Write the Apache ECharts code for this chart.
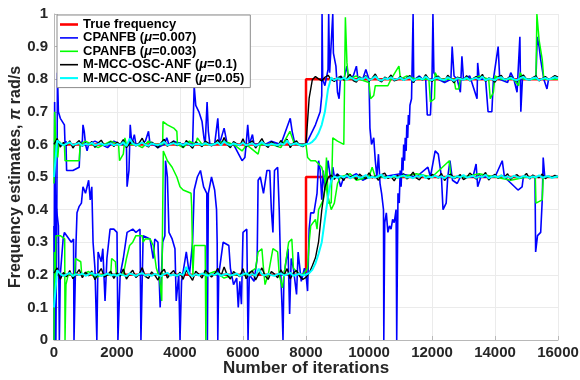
<!DOCTYPE html>
<html><head><meta charset="utf-8">
<script src="https://cdn.jsdelivr.net/npm/echarts@6/dist/echarts.min.js"></script>
<style>html,body{margin:0;padding:0;background:#fff}#c{width:580px;height:380px}</style>
</head><body><div id="c"></div>
<script>
const legendNames = ['True frequency','CPANFB (μ=0.007)','CPANFB (μ=0.003)','M-MCC-OSC-ANF (μ=0.1)','M-MCC-OSC-ANF (μ=0.05)'];
const xTicks = [0,2000,4000,6000,8000,10000,12000,14000,16000];
const sampleStep = 100; // M-MCC arrays are sampled every 100 iterations, 0..16000

const trueUpper = [[0,0.6],[8000,0.6],[8000,0.8],[16000,0.8]];
const trueLower = [[0,0.2],[8000,0.2],[8000,0.5],[16000,0.5]];

const blueUpper = [[0,0.0],[20,0.73],[40,0.45],[60,0.0],[90,0.40],[110,0.82],[140,0.70],[200,0.68],[330,0.66],[350,0.60],[380,0.61],[400,0.52],[600,0.52],[800,0.53],[830,0.60],[900,0.61],[920,0.66],[960,0.64],[1000,0.60],[1050,0.58],[1100,0.60],[1300,0.61],[1500,0.60],[1700,0.59],[1900,0.61],[2100,0.60],[2300,0.60],[2320,0.47],[2380,0.52],[2420,0.66],[2470,0.60],[2550,0.63],[2600,0.60],[2700,0.60],[2900,0.61],[3000,0.64],[3050,0.60],[3150,0.60],[3300,0.59],[3500,0.60],[3580,0.62],[3650,0.60],[3800,0.61],[4100,0.60],[4400,0.60],[4450,0.78],[4500,0.72],[4600,0.70],[4700,0.67],[4760,0.62],[4800,0.60],[4860,0.73],[4900,0.64],[4950,0.60],[5100,0.60],[5200,0.68],[5250,0.60],[5400,0.65],[5500,0.60],[5700,0.60],[5970,0.55],[6060,0.56],[6100,0.60],[6150,0.66],[6200,0.60],[6300,0.63],[6350,0.60],[6700,0.60],[6900,0.61],[7200,0.60],[7500,0.68],[7560,0.64],[7650,0.60],[7900,0.60],[8000,0.60],
[8100,0.62],[8300,0.66],[8450,0.70],[8500,0.75],[8510,1.0],[8530,0.80],[8600,0.78],[8700,0.83],[8720,1.0],[8750,0.82],[8850,1.0],[8870,0.88],[8950,0.84],[9000,0.76],[9050,0.74],[9100,0.81],[9200,0.80],[9300,0.84],[9350,0.80],[9500,0.81],[9600,0.84],[9650,0.80],[9800,0.80],[9900,0.83],[10000,0.80],[10030,0.65],[10080,0.60],[10150,0.62],[10200,0.55],[10250,0.50],[10300,0.57],[10350,0.48],[10400,0.45],[10460,0.40],[10470,0.0],[10500,0.36],[10550,0.39],[10600,0.33],[10650,0.35],[10700,0.34],[10750,0.37],[10800,0.36],[10860,0.40],[10880,0.0],[10920,0.45],[10960,0.42],[10990,0.52],[11020,0.47],[11050,0.56],[11080,0.52],[11100,0.60],[11130,0.55],[11150,0.62],[11180,0.58],[11200,0.66],[11230,0.62],[11250,0.69],[11280,0.66],[11300,0.72],[11350,0.74],[11400,1.0],[11420,0.79],[11460,0.80],[11600,0.81],[11700,0.80],[11800,0.80],[11850,0.69],[11950,0.69],[12000,0.80],[12030,1.0],[12060,0.82],[12200,0.80],[12400,0.79],[12600,0.80],[12640,0.90],[12700,0.81],[12800,0.80],[12900,0.76],[12950,0.87],[13000,0.80],[13200,0.81],[13430,0.74],[13450,0.85],[13500,0.80],[13700,0.80],[13780,0.70],[13900,0.70],[13950,0.80],[14100,0.90],[14150,0.80],[14400,0.79],[14500,0.82],[14600,0.80],[14700,0.76],[14790,0.93],[14820,0.70],[14870,0.80],[15100,0.80],[15300,0.80],[15340,0.93],[15400,0.90],[15450,0.86],[15550,0.80],[15650,0.77],[15700,0.80],[16000,0.80]];

const blueLower = [[0,0.35],[30,0.0],[40,0.43],[80,0.40],[140,0.35],[170,0.0],[200,0.20],[290,0.31],[330,0.33],[550,0.30],[620,0.31],[635,0.0],[700,0.30],[730,0.39],[800,0.41],[870,0.42],[920,0.47],[1000,0.45],[1100,0.49],[1150,0.43],[1200,0.47],[1240,0.30],[1300,0.22],[1360,0.0],[1400,0.27],[1500,0.24],[1550,0.28],[1620,0.12],[1680,0.25],[1780,0.34],[1900,0.34],[2000,0.33],[2030,0.0],[2100,0.20],[2200,0.25],[2320,0.33],[2500,0.34],[2600,0.33],[2730,0.34],[2760,0.0],[2830,0.32],[3050,0.31],[3150,0.25],[3200,0.31],[3300,0.30],[3370,0.10],[3450,0.30],[3520,0.32],[3540,0.55],[3600,0.50],[3650,0.33],[3750,0.31],[3840,0.28],[3880,0.12],[3960,0.20],[4000,0.0],[4050,0.18],[4150,0.24],[4200,0.27],[4300,0.20],[4400,0.30],[4450,0.46],[4550,0.50],[4650,0.52],[4750,0.47],[4850,0.45],[4870,0.0],[4900,0.45],[5000,0.50],[5100,0.46],[5160,0.40],[5180,0.30],[5200,0.0],[5230,0.20],[5370,0.30],[5550,0.29],[5600,0.22],[5700,0.17],[5800,0.19],[5850,0.10],[5900,0.18],[5950,0.11],[6000,0.33],[6120,0.34],[6160,0.0],[6200,0.20],[6350,0.18],[6450,0.25],[6480,0.49],[6550,0.50],[6650,0.45],[6760,0.52],[6850,0.52],[6900,0.40],[6950,0.33],[7000,0.52],[7100,0.53],[7150,0.40],[7200,0.20],[7240,0.10],[7270,0.0],[7300,0.20],[7430,0.28],[7480,0.08],[7530,0.25],[7600,0.22],[7700,0.14],[7750,0.27],[7850,0.18],[7950,0.22],[8000,0.20],
[8050,0.15],[8100,0.34],[8150,0.39],[8250,0.39],[8300,0.42],[8350,0.45],[8400,0.55],[8450,0.52],[8500,0.43],[8550,0.52],[8600,0.46],[8700,0.55],[8800,0.48],[8850,0.53],[8900,0.50],[9000,0.51],[9100,0.47],[9200,0.50],[9400,0.50],[9600,0.51],[9800,0.49],[10000,0.50],[10400,0.50],[11000,0.51],[11500,0.50],[11870,0.53],[11950,0.50],[12100,0.58],[12200,0.57],[12300,0.50],[12350,0.40],[12450,0.42],[12500,0.50],[12570,0.55],[12650,0.49],[12800,0.48],[12900,0.50],[13300,0.50],[13400,0.54],[13450,0.47],[13550,0.50],[14000,0.50],[14230,0.55],[14300,0.50],[14730,0.46],[14860,0.47],[14900,0.50],[15270,0.50],[15290,0.27],[15350,0.32],[15450,0.33],[15500,0.43],[15530,0.56],[15580,0.50],[16000,0.50]];

const greenUpper = [[0,0.48],[20,0.70],[60,0.60],[120,0.56],[160,0.61],[250,0.60],[330,0.60],[350,0.55],[500,0.55],[800,0.55],[830,0.60],[1000,0.61],[1200,0.60],[1400,0.59],[1600,0.60],[1800,0.61],[2050,0.60],[2080,0.55],[2200,0.57],[2250,0.62],[2300,0.60],[2600,0.60],[2800,0.59],[3000,0.61],[3200,0.60],[3450,0.60],[3460,0.67],[3600,0.66],[3800,0.65],[3900,0.64],[3920,0.60],[4100,0.59],[4300,0.61],[4500,0.60],[4550,0.62],[4700,0.60],[5000,0.60],[5400,0.61],[5700,0.60],[5970,0.58],[6050,0.59],[6100,0.60],[6480,0.57],[6550,0.60],[6900,0.60],[7200,0.59],[7490,0.64],[7600,0.61],[7700,0.60],[8000,0.60],[8050,0.56],[8150,0.55],[8300,0.55],[8500,0.53],[8650,0.47],[8700,0.42],[8800,0.42],[8850,0.62],[9000,0.61],[9200,0.60],[9250,0.99],[9300,0.85],[9350,0.80],[9600,0.81],[9700,0.80],[10000,0.79],[10050,0.74],[10150,0.75],[10200,0.78],[10600,0.78],[10700,0.80],[10950,0.84],[11000,0.80],[11200,0.81],[11500,0.80],[11900,0.80],[11950,0.73],[12080,0.74],[12100,0.82],[12200,0.80],[12700,0.80],[12750,0.77],[12850,0.77],[12900,0.80],[13300,0.80],[13500,0.81],[13800,0.80],[13850,0.74],[13950,0.76],[14000,0.81],[14200,0.80],[14600,0.80],[14750,0.78],[14800,0.82],[14900,0.80],[15300,0.80],[15330,1.0],[15400,0.92],[15500,0.86],[15550,0.80],[15700,0.80],[16000,0.80]];

const greenLower = [[0,0.0],[15,0.27],[40,0.18],[60,0.32],[200,0.32],[340,0.31],[350,0.0],[380,0.17],[450,0.20],[650,0.20],[680,0.25],[850,0.24],[880,0.20],[1100,0.21],[1300,0.19],[1500,0.20],[1800,0.20],[1830,0.25],[1950,0.24],[1980,0.20],[2200,0.20],[2300,0.25],[2400,0.29],[2500,0.30],[2600,0.32],[2800,0.32],[2830,0.30],[2900,0.31],[3050,0.31],[3150,0.29],[3250,0.22],[3350,0.19],[3420,0.12],[3460,0.12],[3470,0.58],[3600,0.55],[3750,0.53],[3900,0.50],[4000,0.47],[4100,0.46],[4350,0.45],[4370,0.41],[4400,0.41],[4410,0.20],[4450,0.29],[4800,0.29],[4820,0.0],[4840,0.20],[5100,0.21],[5400,0.19],[5700,0.20],[6100,0.20],[6400,0.22],[6480,0.27],[6600,0.28],[6650,0.22],[6700,0.17],[6800,0.20],[6950,0.28],[7100,0.27],[7150,0.20],[7250,0.16],[7300,0.20],[7450,0.30],[7550,0.31],[7600,0.22],[7800,0.20],[7900,0.20],[8050,0.22],[8100,0.30],[8150,0.35],[8300,0.37],[8350,0.34],[8400,0.40],[8550,0.43],[8600,0.46],[8650,0.56],[8700,0.44],[8800,0.40],[8900,0.42],[9000,0.48],[9100,0.50],[9400,0.51],[9600,0.49],[10000,0.50],[10100,0.53],[10200,0.50],[11000,0.50],[11500,0.51],[12000,0.50],[12550,0.55],[12600,0.50],[13000,0.50],[13500,0.51],[14000,0.50],[14500,0.49],[15000,0.50],[15280,0.50],[15300,0.42],[15500,0.43],[15530,0.50],[16000,0.50]];

const blackUpper = [0.600,0.618,0.592,0.606,0.597,0.611,0.589,0.603,0.612,0.594,
0.605,0.598,0.609,0.591,0.604,0.613,0.596,0.601,0.608,0.593,
0.607,0.599,0.615,0.590,0.602,0.611,0.595,0.604,0.619,0.598,
0.592,0.607,0.600,0.589,0.605,0.616,0.594,0.603,0.610,0.596,
0.606,0.591,0.612,0.599,0.588,0.608,0.601,0.593,0.610,0.604,
0.595,0.603,0.614,0.597,0.621,0.600,0.590,0.609,0.602,0.596,
0.617,0.592,0.604,0.611,0.589,0.603,0.618,0.598,0.591,0.609,
0.602,0.594,0.612,0.599,0.616,0.590,0.605,0.611,0.597,0.593,
0.601,
0.742,0.798,0.808,0.801,0.795,0.806,0.812,0.799,0.793,0.804,
0.809,0.797,0.803,0.815,0.796,0.791,0.807,0.800,0.811,0.794,
0.803,0.816,0.798,0.792,0.806,0.801,0.813,0.795,0.799,0.808,
0.796,0.804,0.811,0.790,0.802,0.807,0.797,0.814,0.800,0.793,
0.805,0.809,0.798,0.794,0.812,0.801,0.789,0.806,0.803,0.797,
0.811,0.795,0.802,0.808,0.799,0.815,0.793,0.804,0.800,0.791,
0.807,0.812,0.796,0.803,0.809,0.798,0.794,0.806,0.813,0.800,
0.797,0.805,0.810,0.795,0.802,0.808,0.799,0.804,0.811,0.806];

const blackLower = [0.205,0.221,0.186,0.207,0.194,0.213,0.188,0.202,0.216,0.191,
0.208,0.197,0.212,0.185,0.204,0.219,0.193,0.200,0.211,0.189,
0.206,0.196,0.218,0.187,0.203,0.214,0.192,0.201,0.222,0.195,
0.189,0.209,0.199,0.184,0.207,0.217,0.190,0.204,0.213,0.194,
0.208,0.186,0.215,0.198,0.183,0.211,0.202,0.190,0.214,0.205,
0.193,0.203,0.220,0.196,0.224,0.199,0.187,0.210,0.201,0.194,
0.219,0.188,0.205,0.212,0.184,0.203,0.221,0.197,0.186,0.210,
0.202,0.191,0.215,0.198,0.219,0.187,0.206,0.213,0.195,0.186,
0.192,
0.205,0.228,0.252,0.302,0.398,0.468,0.497,0.506,0.493,0.508,
0.501,0.489,0.511,0.498,0.504,0.492,0.509,0.500,0.495,0.513,
0.497,0.503,0.490,0.507,0.512,0.496,0.501,0.488,0.505,0.499,
0.510,0.494,0.502,0.515,0.497,0.491,0.506,0.500,0.493,0.508,
0.503,0.497,0.511,0.489,0.504,0.509,0.495,0.501,0.507,0.492,
0.498,0.512,0.503,0.494,0.506,0.500,0.514,0.491,0.502,0.508,
0.496,0.505,0.499,0.510,0.493,0.503,0.507,0.497,0.501,0.511,
0.494,0.506,0.500,0.498,0.509,0.495,0.503,0.499,0.505,0.501];

const cyanUpper = [0.500,0.612,0.603,0.597,0.602,0.606,0.598,0.601,0.604,0.596,
0.602,0.599,0.605,0.597,0.601,0.603,0.598,0.600,0.604,0.597,
0.601,0.598,0.607,0.595,0.618,0.603,0.597,0.601,0.606,0.599,
0.596,0.603,0.600,0.598,0.602,0.608,0.597,0.601,0.604,0.599,
0.603,0.597,0.605,0.600,0.596,0.602,0.601,0.598,0.604,0.600,
0.598,0.601,0.606,0.597,0.609,0.601,0.597,0.603,0.600,0.598,
0.605,0.597,0.601,0.603,0.596,0.600,0.607,0.599,0.597,0.602,
0.600,0.597,0.603,0.599,0.612,0.598,0.601,0.604,0.598,0.596,
0.601,
0.602,0.608,0.618,0.635,0.660,0.700,0.770,0.805,0.797,0.803,
0.799,0.804,0.798,0.806,0.801,0.796,0.803,0.800,0.807,0.797,
0.801,0.809,0.799,0.796,0.803,0.800,0.806,0.798,0.801,0.804,
0.797,0.802,0.806,0.795,0.801,0.804,0.799,0.808,0.800,0.797,
0.803,0.805,0.799,0.797,0.806,0.800,0.795,0.803,0.801,0.798,
0.805,0.797,0.801,0.804,0.799,0.808,0.796,0.802,0.800,0.797,
0.804,0.806,0.798,0.801,0.805,0.799,0.797,0.803,0.807,0.800,
0.798,0.803,0.805,0.797,0.801,0.804,0.799,0.802,0.806,0.803];

const cyanLower = [0.100,0.214,0.203,0.197,0.201,0.206,0.196,0.202,0.199,0.204,
0.197,0.201,0.206,0.198,0.202,0.196,0.200,0.204,0.198,0.201,
0.197,0.203,0.199,0.196,0.204,0.201,0.197,0.202,0.205,0.198,
0.201,0.197,0.203,0.199,0.196,0.202,0.206,0.198,0.201,0.197,
0.203,0.199,0.224,0.201,0.196,0.202,0.198,0.204,0.200,0.197,
0.202,0.199,0.205,0.197,0.201,0.203,0.198,0.200,0.204,0.196,
0.201,0.205,0.198,0.202,0.197,0.219,0.201,0.198,0.203,0.199,
0.197,0.202,0.204,0.198,0.201,0.206,0.197,0.200,0.203,0.198,
0.201,
0.205,0.215,0.235,0.265,0.300,0.370,0.440,0.490,0.502,0.497,
0.503,0.499,0.505,0.496,0.501,0.504,0.498,0.500,0.506,0.497,
0.501,0.498,0.503,0.507,0.496,0.501,0.499,0.504,0.497,0.502,
0.505,0.498,0.501,0.496,0.503,0.500,0.506,0.497,0.501,0.499,
0.504,0.498,0.502,0.496,0.505,0.501,0.497,0.503,0.499,0.506,
0.498,0.501,0.504,0.497,0.502,0.500,0.507,0.496,0.501,0.503,
0.499,0.505,0.498,0.502,0.497,0.504,0.500,0.498,0.503,0.501,
0.497,0.502,0.499,0.505,0.498,0.501,0.503,0.497,0.500,0.502];

const FONT = '"Liberation Sans", Arial, Helvetica, sans-serif';
const TXT = '#262626';
function sampled(arr){ return arr.map((v,i)=>[i*sampleStep, v]); }
function ser(name, data, color, width){
  return {name:name, type:'line', data:data, symbol:'none', showSymbol:false, silent:true,
    lineStyle:{color:color, width:width}, itemStyle:{color:color}};
}
const C = {red:'#ff0000', blue:'#0000ff', green:'#00ff00', black:'#000000', cyan:'#00ffff'};
const thinIcon = 'path://M0,0H18V1.6H0Z';
const thickIcon = 'path://M0,0H18V2.6H0Z';
const series = [
  ser(legendNames[0], trueUpper, C.red, 2.5), ser(legendNames[0], trueLower, C.red, 2.5),
  ser(legendNames[1], blueUpper, C.blue, 1.6), ser(legendNames[1], blueLower, C.blue, 1.6),
  ser(legendNames[2], greenUpper, C.green, 1.5), ser(legendNames[2], greenLower, C.green, 1.5),
  ser(legendNames[3], sampled(blackUpper), C.black, 1.4), ser(legendNames[3], sampled(blackLower), C.black, 1.4),
  ser(legendNames[4], sampled(cyanUpper), C.cyan, 2), ser(legendNames[4], sampled(cyanLower), C.cyan, 2)
];
const chart = echarts.init(document.getElementById('c'), null, {renderer:'canvas'});
chart.setOption({
  animation:false,
  backgroundColor:'#ffffff',
  grid:{left:54, right:22, top:14, bottom:40, containLabel:false, outerBoundsMode:'none'},
  legend:{
    data:legendNames.map((n,i)=>({name:n, icon: i===0 ? thickIcon : (i===4 ? 'path://M0,0H18V2.1H0Z' : thinIcon)})),
    orient:'vertical', left:57, top:15,
    backgroundColor:'#ffffff', borderColor:'#8c8c8c', borderWidth:1,
    padding:[3,6,3,3], itemGap:0.4, itemWidth:18, itemHeight:10, symbolKeepAspect:true,
    selectedMode:false,
    formatter:function(n){ const p=n.split('μ'); return p.length>1 ? '{t|'+p[0]+'}{m|μ}{t|'+p[1]+'}' : '{t|'+n+'}'; },
    textStyle:{fontFamily:FONT, fontWeight:'bold', fontSize:13, color:'#000',
      rich:{t:{fontFamily:FONT, fontWeight:'bold', fontSize:13, color:'#000', lineHeight:13},
            m:{fontFamily:FONT, fontStyle:'italic', fontSize:13, color:'#000', lineHeight:13}}}
  },
  xAxis:{type:'value', min:0, max:16000, interval:2000,
    name:'Number of iterations', nameLocation:'middle', nameGap:20, nameMoveOverlap:false,
    nameTextStyle:{fontFamily:FONT, fontWeight:'bold', fontSize:17, color:TXT},
    axisLine:{show:true, lineStyle:{color:'#b8b8b8'}},
    axisTick:{show:true, inside:true, length:4, lineStyle:{color:'#b8b8b8'}},
    axisLabel:{fontFamily:FONT, fontWeight:'bold', fontSize:15, color:TXT, margin:5,
      formatter:function(v){ return xTicks.indexOf(v)>=0 ? String(v) : ''; }},
    splitLine:{show:true, lineStyle:{color:'#ebebeb'}}},
  yAxis:{type:'value', min:0, max:1, interval:0.1,
    name:'{a|Frequency estimates, }{i|π}{a| rad/s}', nameLocation:'middle', nameGap:30, nameMoveOverlap:false,
    nameTextStyle:{fontFamily:FONT, fontWeight:'bold', fontSize:16, color:TXT,
      rich:{a:{fontFamily:FONT, fontWeight:'bold', fontSize:16, color:TXT},
            i:{fontFamily:FONT, fontStyle:'italic', fontSize:16, color:TXT}}},
    axisLine:{show:true, lineStyle:{color:'#b8b8b8'}},
    axisTick:{show:true, inside:true, length:4, lineStyle:{color:'#b8b8b8'}},
    axisLabel:{fontFamily:FONT, fontWeight:'bold', fontSize:15, color:TXT, margin:6},
    splitLine:{show:true, lineStyle:{color:'#ebebeb'}}},
  series:series
});
</script></body></html>
